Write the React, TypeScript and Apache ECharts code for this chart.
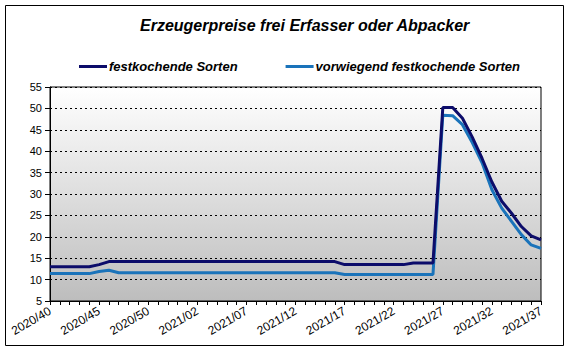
import React, { useEffect, useRef } from "react";
import * as echarts from "echarts";

const weeks: string[] = [
  "2020/40", "2020/41", "2020/42", "2020/43", "2020/44", "2020/45", "2020/46", "2020/47", "2020/48", "2020/49",
  "2020/50", "2020/51", "2020/52", "2020/53", "2021/01", "2021/02", "2021/03", "2021/04", "2021/05", "2021/06",
  "2021/07", "2021/08", "2021/09", "2021/10", "2021/11", "2021/12", "2021/13", "2021/14", "2021/15", "2021/16",
  "2021/17", "2021/18", "2021/19", "2021/20", "2021/21", "2021/22", "2021/23", "2021/24", "2021/25", "2021/26",
  "2021/27", "2021/28", "2021/29", "2021/30", "2021/31", "2021/32", "2021/33", "2021/34", "2021/35", "2021/36",
  "2021/37",
];

const festkochend: number[] = [
  13.0, 13.0, 13.0, 13.0, 13.0, 13.5, 14.2, 14.2, 14.2, 14.2,
  14.2, 14.2, 14.2, 14.2, 14.2, 14.2, 14.2, 14.2, 14.2, 14.2,
  14.2, 14.2, 14.2, 14.2, 14.2, 14.2, 14.2, 14.2, 14.2, 14.2,
  13.5, 13.5, 13.5, 13.5, 13.5, 13.5, 13.5, 13.9, 13.9, 13.9,
  50.2, 50.2, 47.7, 43.3, 38.3, 32.8, 28.3, 25.5, 22.4, 20.2,
  19.3,
];

const vorwiegend: number[] = [
  11.4, 11.4, 11.4, 11.4, 11.4, 11.9, 12.2, 11.6, 11.6, 11.6,
  11.6, 11.6, 11.6, 11.6, 11.6, 11.6, 11.6, 11.6, 11.6, 11.6,
  11.6, 11.6, 11.6, 11.6, 11.6, 11.6, 11.6, 11.6, 11.6, 11.6,
  11.2, 11.2, 11.2, 11.2, 11.2, 11.2, 11.2, 11.2, 11.2, 11.2,
  48.4, 48.3, 46.2, 42.0, 37.3, 31.0, 26.7, 23.6, 20.5, 18.1,
  17.3,
];

const seriesNames: string[] = ["festkochende Sorten", "vorwiegend festkochende Sorten"];
const titleText = "Erzeugerpreise frei Erfasser oder Abpacker";

const FONT = "Arial, 'Liberation Sans', sans-serif";

export default function App() {
  const ref = useRef<HTMLDivElement>(null);
  useEffect(() => {
    if (!ref.current) return;
    const chart = echarts.init(ref.current, undefined, { renderer: "svg" });
    chart.setOption({
      animation: false,
      backgroundColor: "#ffffff",
      title: {
        text: titleText,
        left: 135,
        top: 12,
        textStyle: {
          fontFamily: FONT,
          fontSize: 16,
          fontWeight: "bold",
          fontStyle: "italic",
          color: "#000",
        },
      },
      legend: {
        left: 74,
        top: 55,
        itemGap: 48,
        itemWidth: 28,
        itemHeight: 3,
        icon: "rect",
        data: seriesNames,
        textStyle: {
          fontFamily: FONT,
          fontSize: 13,
          fontWeight: "bold",
          fontStyle: "italic",
          color: "#000",
          padding: [0, 0, 0, -3],
        },
      },
      graphic: [
        {
          type: "rect",
          shape: { x: 5.5, y: 5.5, width: 558, height: 340 },
          style: { fill: "none", stroke: "#000", lineWidth: 1 },
          silent: true,
        },
      ],
      grid: {
        left: 50,
        top: 87,
        right: 29,
        bottom: 51,
        show: true,
        borderColor: "#000",
        borderWidth: 1,
        backgroundColor: new echarts.graphic.LinearGradient(0, 0, 0, 1, [
          { offset: 0, color: "#ffffff" },
          { offset: 1, color: "#bdbdbd" },
        ]),
      },
      xAxis: {
        type: "category",
        data: weeks,
        boundaryGap: false,
        axisLine: { lineStyle: { color: "#000", width: 1 } },
        axisTick: { show: true, interval: 0, length: 4, lineStyle: { color: "#000" } },
        axisLabel: {
          interval: 4,
          rotate: 30,
          margin: 9,
          fontFamily: FONT,
          fontSize: 12,
          color: "#000",
        },
        splitLine: { show: false },
      },
      yAxis: {
        type: "value",
        min: 5,
        max: 55,
        interval: 5,
        axisLine: { show: true, lineStyle: { color: "#000", width: 1 } },
        axisTick: { show: true, length: 5, lineStyle: { color: "#000" } },
        axisLabel: {
          margin: 8,
          fontFamily: FONT,
          fontSize: 11,
          color: "#000",
        },
        splitLine: {
          show: true,
          lineStyle: { color: "#000", width: 1, type: [2, 3] },
        },
      },
      series: [
        {
          name: seriesNames[0],
          type: "line",
          data: festkochend,
          symbol: "none",
          color: "#0c0c6a",
          lineStyle: { width: 3, color: "#0c0c6a" },
          z: 3,
        },
        {
          name: seriesNames[1],
          type: "line",
          data: vorwiegend,
          symbol: "none",
          color: "#1a73ba",
          lineStyle: { width: 3, color: "#1a73ba" },
          z: 2,
        },
      ],
    });
    return () => chart.dispose();
  }, []);
  return (
    <div
      ref={ref}
      style={{ position: "fixed", left: 0, top: 0, width: 570, height: 352 }}
    />
  );
}
